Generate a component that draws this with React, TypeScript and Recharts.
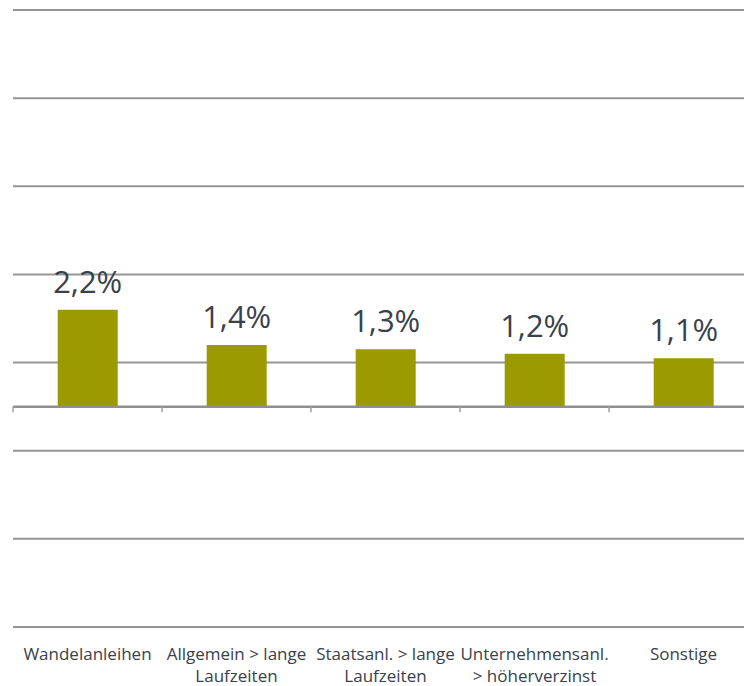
import React from "react";
import { BarChart, Bar, XAxis, YAxis, CartesianGrid, ReferenceLine, LabelList } from "recharts";

const categories = [
  "Wandelanleihen",
  "Allgemein > lange\nLaufzeiten",
  "Staatsanl. > lange\nLaufzeiten",
  "Unternehmensanl.\n> höherverzinst",
  "Sonstige",
];
const values = [2.2, 1.4, 1.3, 1.2, 1.1];
const yTicks = [-5, -3, -1, 1, 3, 5, 7, 9];

const data = categories.map((c, i) => ({ name: c, value: values[i] }));

const FONT = "'Open Sans', sans-serif";
const TEXT = "#39424a";

const CategoryTick = (props: any) => {
  const { x, y, payload } = props;
  const lines = String(payload.value).split("\n");
  return (
    <text x={x} y={y} textAnchor="middle" fill={TEXT} fontSize={17} fontFamily={FONT}>
      {lines.map((l: string, i: number) => (
        <tspan key={i} x={x} dy={i === 0 ? 25 : 22}>
          {l}
        </tspan>
      ))}
    </text>
  );
};

const EmptyTick = () => <g />;

export default function App() {
  return (
    <div style={{ position: "absolute", left: 0, top: 0, width: 744, height: 686, overflow: "hidden", background: "#fff" }}>
      <BarChart
        width={758}
        height={686}
        data={data}
        margin={{ top: 10, right: 0, left: 13, bottom: 0 }}
        barCategoryGap="30%"
      >
        <CartesianGrid vertical={false} stroke="#959595" strokeWidth={2} />
        <XAxis
          dataKey="name"
          height={59}
          axisLine={false}
          tickLine={false}
          interval={0}
          tick={<CategoryTick />}
        />
        <YAxis width={0} domain={[-5, 9]} ticks={yTicks} allowDataOverflow tick={<EmptyTick />} axisLine={false} tickLine={false} />
        <Bar dataKey="value" fill="#9b9a00" isAnimationActive={false}>
          <LabelList
            dataKey="value"
            position="top"
            offset={17}
            fill={TEXT}
            fontSize={31}
            fontFamily={FONT}
            formatter={(v: any) => String(v).replace(".", ",") + "%"}
          />
        </Bar>
        <ReferenceLine y={0} stroke="#8f8f8f" strokeWidth={2.5} />
        {categories.map((c) => (
          <ReferenceLine
            key={c}
            position="start"
            segment={[
              { x: c, y: 0 },
              { x: c, y: -0.13 },
            ]}
            stroke="#a0a0a0"
            strokeWidth={1.5}
          />
        ))}
      </BarChart>
    </div>
  );
}
